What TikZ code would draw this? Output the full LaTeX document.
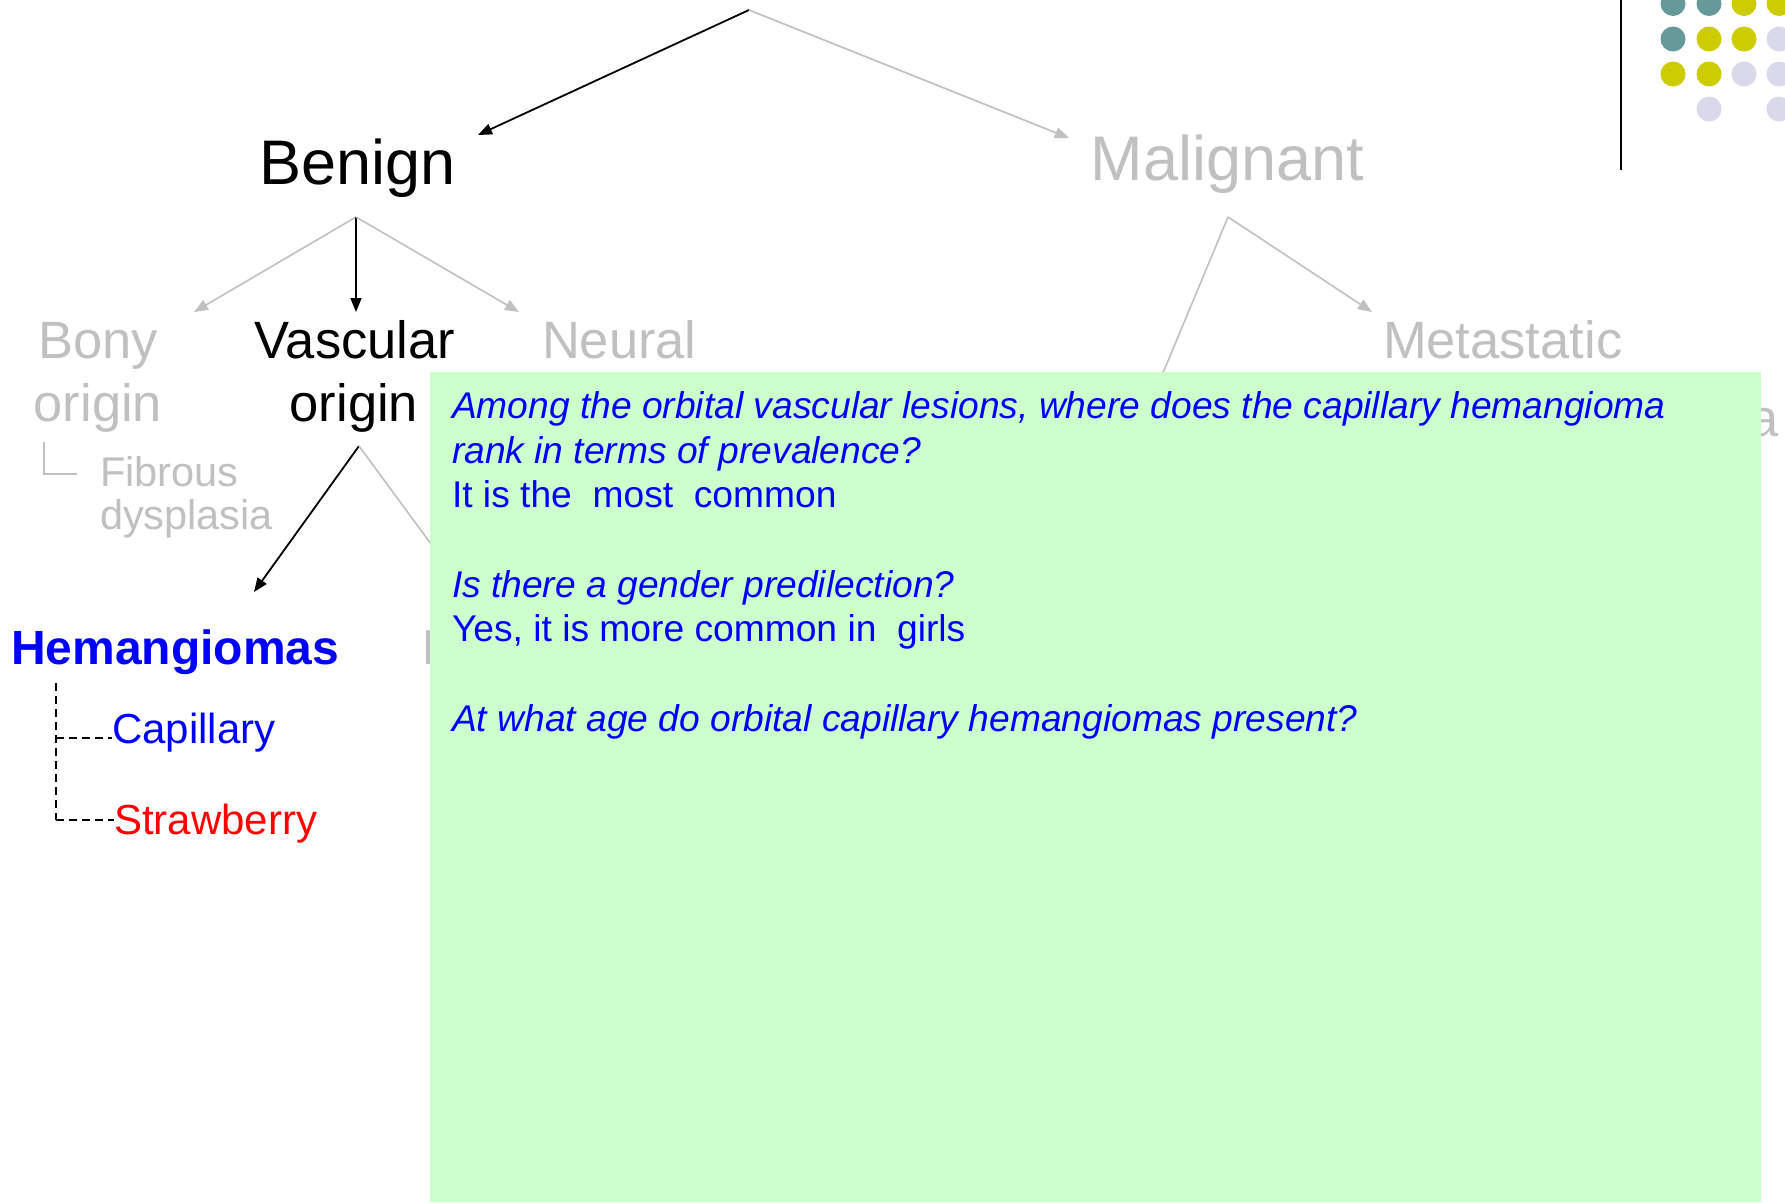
\documentclass[tikz,border=0pt]{standalone}
\usepackage{fontspec}
\setmainfont{Liberation Sans}
\usetikzlibrary{arrows.meta}

\definecolor{lgray}{RGB}{192,192,192}
\definecolor{qblue}{RGB}{0,0,255}
\definecolor{qred}{RGB}{255,0,0}
\definecolor{notegreen}{RGB}{204,255,204}
\definecolor{dotteal}{RGB}{102,153,153}
\definecolor{dotyellow}{RGB}{204,204,0}
\definecolor{dotlav}{RGB}{217,217,235}

\newcommand{\fsz}[1]{\fontsize{#1}{#1}\selectfont}

\tikzset{
  lbl/.style={inner sep=0pt, outer sep=0pt},
  big/.style={lbl, font=\fsz{63}},
  mid/.style={lbl, font=\fsz{52.5}},
  small/.style={lbl, font=\fsz{41.5}},
  leaf/.style={lbl, font=\fsz{42}},
  note/.style={lbl, anchor=base west, text=qblue, font=\fsz{37.2}},
  noteq/.style={note, font=\fsz{37.2}\itshape},
  tip/.style={-{Triangle[length=14pt,width=11pt]}},
  darrow/.style={tip, draw=black, line width=1.8pt},
  garrow/.style={tip, draw=lgray, line width=1.6pt},
  gline/.style={draw=lgray, line width=1.6pt},
  dashlink/.style={draw=black, line width=1.3pt, dash pattern=on 8pt off 5pt},
  dot/.style={circle, inner sep=0pt, minimum size=25pt}
}

\begin{document}
\begin{tikzpicture}[x=1pt,y=-1pt]
  \useasboundingbox (0,0) rectangle (1785,1202);
  \clip (0,0) rectangle (1785,1202);
  \fill[white] (0,0) rectangle (1785,1202);

  % corner ornament: rule and dot grid
  \draw[line width=2.8pt] (1621,0) -- (1621,170);
  \foreach \cx/\cy/\col in {
      1673/3.5/dotteal, 1709/3.5/dotteal, 1744/3.5/dotyellow, 1779/3.5/dotyellow,
      1673/39/dotteal,  1709/39/dotyellow, 1744/39/dotyellow, 1779/39/dotlav,
      1673/74/dotyellow, 1709/74/dotyellow, 1744/74/dotlav, 1779/74/dotlav,
      1709/109/dotlav, 1779/109/dotlav}
    \node[dot, fill=\col] at (\cx,\cy) {};

  % branch points and arrow tips
  \coordinate (root) at (749,10);
  \coordinate (benignTip) at (478,135);
  \coordinate (malignantTip) at (1069,138);
  \coordinate (benignFork) at (356,217);
  \coordinate (bonyTip) at (194,312);
  \coordinate (vascTip) at (356,312);
  \coordinate (neuralTip) at (519,312);
  \coordinate (malFork) at (1228,217);
  \coordinate (metaTip) at (1372,312);
  \coordinate (primaryEnd) at (1085,560);
  \coordinate (vascFork) at (359,446);
  \coordinate (hemTip) at (254,592);
  \coordinate (lymphEnd) at (470,597);

  % tree labels
  \node[big, anchor=base] (benign) at (357.5,184) {Benign};
  \node[big, anchor=base, text=lgray] (malignant) at (1227.5,180) {Malignant};

  \node[mid, anchor=base, text=lgray] (bony) at (98,358.6) {Bony};
  \node[mid, anchor=base, text=lgray] (bony2) at (98,421) {origin};
  \node[mid, anchor=base] (vascular) at (355,358.6) {Vascular};
  \node[mid, anchor=base] (vascular2) at (354,421) {origin};
  \node[mid, anchor=base west, text=lgray] (neural) at (542,358.6) {Neural};
  \node[mid, anchor=base west, text=lgray] (metastatic) at (1383,358.6) {Metastatic};
  % only the last letter of this label shows beside the panel
  \node[mid, anchor=base east, text=lgray] (malignantSub) at (1779,436) {a};

  \node[small, anchor=base west, text=lgray] (fibrous) at (100,486) {Fibrous};
  \node[small, anchor=base west, text=lgray] (fibrous2) at (100,529) {dysplasia};
  \draw[lgray, line width=1.4pt] (44,442) |- (77,474);

  \node[lbl, anchor=base west, text=qblue, font=\fsz{48}\bfseries] (hemangiomas) at (11,664) {Hemangiomas};
  % only the stem of this label shows beside the panel
  \node[lbl, anchor=base west, text=lgray, font=\fsz{49}] (lymph) at (422,664) {L};

  \node[leaf, anchor=base west, text=qblue] (capillary) at (112,743) {Capillary};
  \node[leaf, anchor=base west, text=qred] (strawberry) at (114,834) {Strawberry};

  % dashed sub-tree of the hemangiomas
  \coordinate (hemStem) at (56,683);
  \coordinate (capJoint) at (56,738);
  \coordinate (strawJoint) at (56,820);
  \draw[dashlink] (hemStem) -- (strawJoint);
  \draw[dashlink] (capJoint) -- (capillary.west |- capJoint);
  \draw[dashlink] (strawJoint) -- (strawberry.west |- strawJoint);

  % connectors
  \draw[darrow] (root) -- (benignTip);
  \draw[garrow] (root) -- (malignantTip);
  \draw[garrow] (benignFork) -- (bonyTip);
  \draw[darrow] (benignFork) -- (vascTip);
  \draw[garrow] (benignFork) -- (neuralTip);
  \draw[garrow] (malFork) -- (metaTip);
  \draw[gline] (malFork) -- (primaryEnd);
  \draw[darrow] (vascFork) -- (hemTip);
  \draw[gline] (vascFork) -- (lymphEnd);

  % question panel
  \fill[notegreen] (430,372) rectangle (1761,1202);
  \node[noteq] (q1) at (452,418.5) {Among the orbital vascular lesions, where does the capillary hemangioma};
  \node[noteq] (q1b) at (452,463.2) {rank in terms of prevalence?};
  \node[note] (a1) at (452,507.8) {It is the\ \ most\ \ common};
  \node[noteq] (q2) at (452,597.2) {Is there a gender predilection?};
  \node[note] (a2) at (452,641.8) {Yes, it is more common in\ \ girls};
  \node[noteq] (q3) at (452,731.5) {At what age do orbital capillary hemangiomas present?};
\end{tikzpicture}
\end{document}
